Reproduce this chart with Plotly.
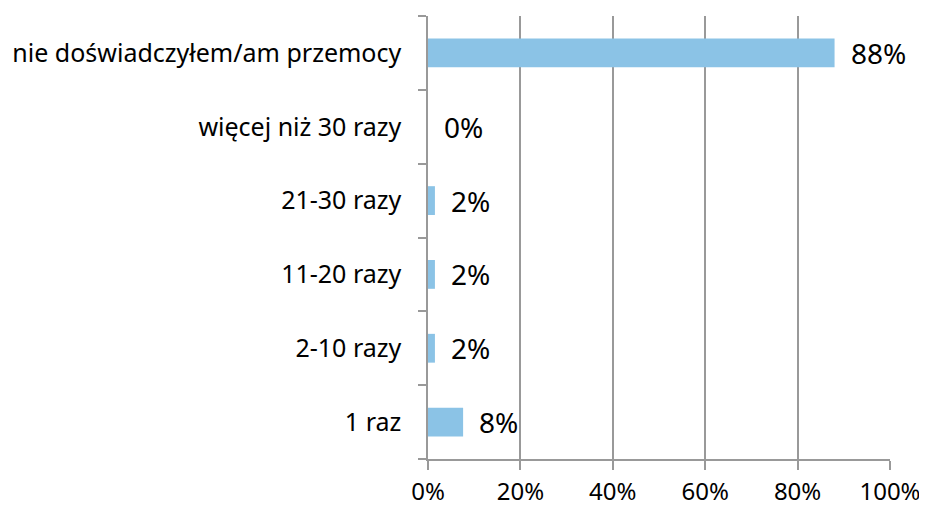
import plotly.graph_objects as go

kategorie = ['1 raz', '2-10 razy', '11-20 razy', '21-30 razy',
             'więcej niż 30 razy', 'nie doświadczyłem/am przemocy']
wartosci = [7.6, 1.5, 1.5, 1.5, 0, 88]
etykiety = ['8%', '2%', '2%', '2%', '0%', '88%']
x_ticks = [0, 20, 40, 60, 80, 100]
x_tick_text = ['0%', '20%', '40%', '60%', '80%', '100%']

FONT = 'Noto Sans'
szary = '#999999'

fig = go.Figure()
fig.add_trace(go.Bar(x=wartosci, y=kategorie, orientation='h',
                     marker_color='#8BC3E6', marker_line_width=0))

# etykiety wartości obok słupków
for k, v, e in zip(kategorie, wartosci, etykiety):
    fig.add_annotation(x=v, y=k, text=e, showarrow=False, xanchor='left',
                       xshift=14, font=dict(family=FONT, size=28, color='black'))

fig.update_xaxes(range=[0, 100], tickvals=x_ticks, ticktext=x_tick_text,
                 showgrid=True, gridcolor=szary, gridwidth=1.5,
                 showline=True, linecolor=szary, linewidth=1.5,
                 ticks='outside', ticklen=9, tickcolor=szary, tickwidth=1.5,
                 tickfont=dict(family=FONT, size=24, color='black'),
                 ticklabelstandoff=1, zeroline=False, automargin=False)
fig.update_yaxes(showline=True, linecolor=szary, linewidth=1.5,
                 ticks='outside', tickson='boundaries', ticklen=8,
                 tickcolor=szary, tickwidth=1.5, showgrid=False,
                 tickfont=dict(family=FONT, size=25, color='black'),
                 ticklabelstandoff=20, automargin=False)
# strona ma 8px marginesu body, stąd mniejsze wymiary
fig.update_layout(width=919, height=499, bargap=0.61,
                  plot_bgcolor='white', paper_bgcolor='white',
                  showlegend=False, margin=dict(l=420, r=37, t=8, b=48))
fig.write_html('out.html')
